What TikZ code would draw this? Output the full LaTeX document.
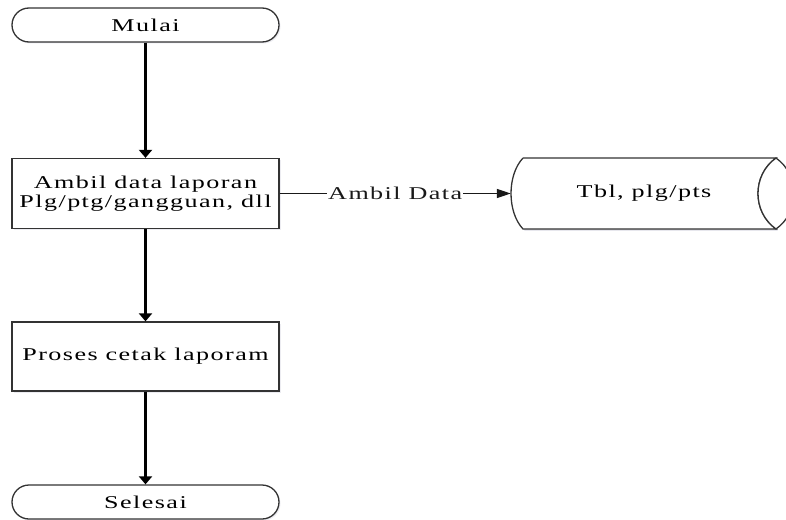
\documentclass[tikz,border=0pt]{standalone}
\usepackage{fontspec}
\setmainfont{Liberation Serif}[FakeStretch=1.45,LetterSpace=8]
\usetikzlibrary{arrows.meta,shadows}

\tikzset{
	shade/.style={drop shadow={fill=blue!15!gray!25,shadow xshift=1.5pt,shadow yshift=-1.5pt}},
	term/.style={draw=black!80,line width=1.3pt,fill=white,rounded corners=17pt,minimum width=267pt,minimum height=34pt,inner sep=0pt,shade},
	proc/.style={draw=black!80,line width=1.3pt,fill=white,minimum width=267pt,align=center,inner sep=0pt,shade},
	flow/.style={line width=2.5pt,-{Triangle[length=8pt,width=13pt]}},
	link/.style={line width=1.6pt,black!90,-{Triangle[length=14pt,width=9pt]}},
	drum/.style={line width=1.3pt,draw=black!80},
}

\begin{document}
\begin{tikzpicture}[x=1pt,y=-1pt,font=\fontsize{18}{18.5}\selectfont]
\useasboundingbox (0,0) rectangle (786,519);

% start, steps and end
\node[term] (mulai) at (145.5,25) {Mulai};
\node[proc,minimum height=70pt] (ambil) at (145.5,193.5) {Ambil data laporan\\Plg/ptg/gangguan, dll};
\node[proc,minimum height=69pt] (cetak) at (145.5,356.5) {Proses cetak laporam};
\node[term] (selesai) at (145.5,502) {Selesai};

% stored table
\node[minimum width=266pt,minimum height=71pt,inner sep=0pt] (tbl) at (644,193.5) {};
\fill[blue!15!gray!25] (524.5,159.5) -- (777.5,159.5) -- (777.5,230.5) -- (524.5,230.5) .. controls (508.5,213.5) and (508.5,176.5) .. cycle;
\filldraw[drum,fill=white] (523,158) -- (776,158) .. controls (752,175) and (752,212) .. (776,229) -- (523,229) .. controls (507,212) and (507,175) .. (523,158);
\filldraw[drum,fill=white] (776,158) .. controls (752,175) and (752,212) .. (776,229) .. controls (800,212) and (800,175) .. cycle;
\node at (tbl) {Tbl, plg/pts};

% connectors
\draw[flow] (mulai) -- (ambil);
\draw[flow] (ambil) -- (cetak);
\draw[flow] (cetak) -- (selesai);
\draw[link] (ambil) -- node[fill=white,inner sep=1pt]{Ambil Data} (tbl);
\end{tikzpicture}
\end{document}
